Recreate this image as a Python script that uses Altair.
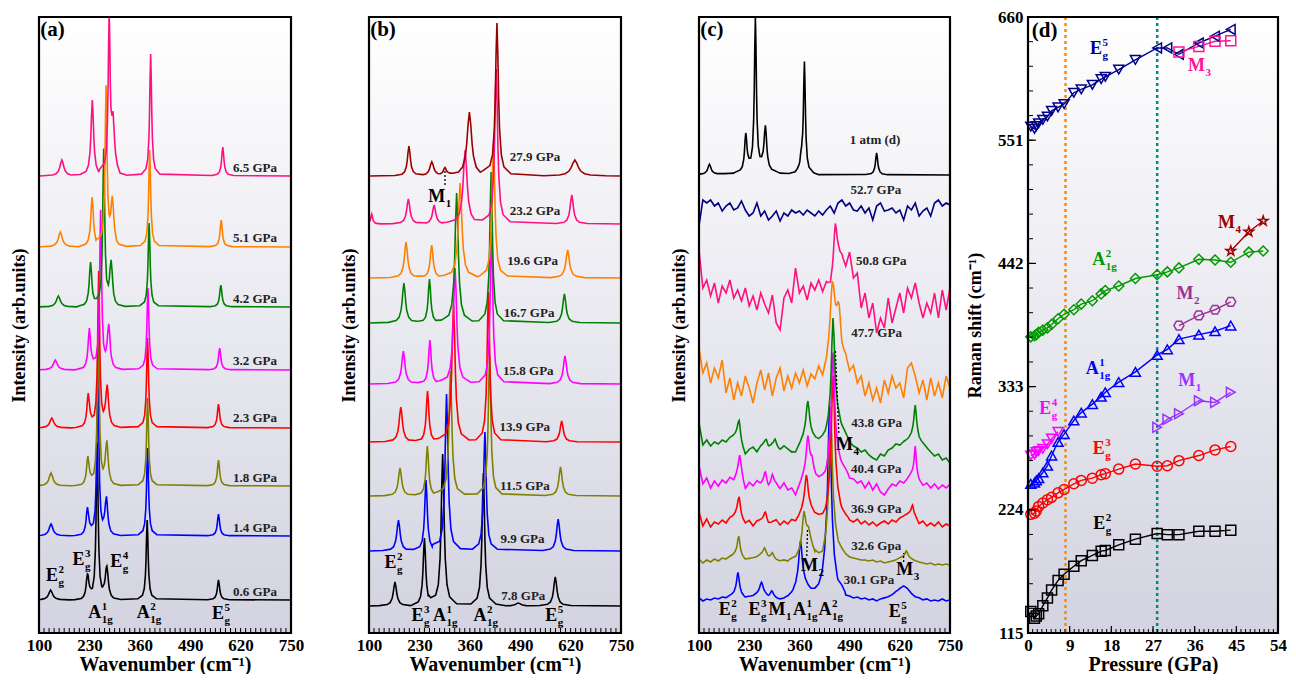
import numpy as np
import pandas as pd
import altair as alt

FONT = "Liberation Serif"
H = 616

# ---------------- colours ----------------
COL = {"black": "#000000", "blue": "#0000ff", "olive": "#808000", "red": "#ff0000",
       "magenta": "#ff00ff", "green": "#008000", "orange": "#ff8000", "pink": "#ff1080",
       "darkred": "#990000", "navy": "#000080"}

# line-shape template for a peak: offset (in half widths) and fraction of peak height
T_OFF = [-8, -4, -2.5, -1.5, -1, -0.5, 0, 0.5, 1, 1.5, 2.5, 4, 8]
T_FRAC = [0.015, 0.06, 0.14, 0.31, 0.5, 0.8, 1, 0.8, 0.5, 0.31, 0.14, 0.06, 0.015]

# ---------------- panel (a) ----------------
A_LABELS = ["0.6 GPa", "1.4 GPa", "1.8 GPa", "2.3 GPa", "3.2 GPa", "4.2 GPa", "5.1 GPa", "6.5 GPa"]
A_COLORS = ["black", "blue", "olive", "red", "magenta", "green", "orange", "pink"]
A_BASE = [33, 97, 147, 205, 263, 326, 386, 457]
# peaks: (wavenumber, height, half width)
A_PEAKS = [
    [(130, 10, 6), (225, 26, 4), (250, 155, 3), (275, 34, 4.5), (379, 80, 3), (563, 20, 3.5)],
    [(131, 12, 6), (225, 29, 4), (252, 158, 3), (274, 36, 4.5), (380, 88, 3), (563, 22, 3.5)],
    [(131, 13, 6), (226, 30, 4), (253, 158, 3), (275, 42, 4.5), (380, 88, 3), (563, 26, 3.5)],
    [(133, 10, 6), (227, 35, 4), (254, 154, 3), (276, 40, 4.5), (380, 90, 3), (563, 24, 3.5)],
    [(142, 10, 6), (230, 42, 4), (259, 157, 3), (280, 42, 4.5), (381, 82, 3), (566, 22, 3.5)],
    [(150, 11, 6), (233, 45, 4), (267, 156, 3), (286, 42, 4.5), (384, 84, 3), (569, 22, 3.5)],
    [(155, 15, 6), (237, 50, 4), (273, 158, 3), (289, 44, 4.5), (385.5, 97, 3), (570, 27, 3.5)],
    [(159, 16, 6), (237.5, 76, 4), (281, 155, 3), (291, 50, 4.5), (388, 122, 3), (574, 29, 3.5)],
]
A_LABEL_X = [657, 657, 657, 657, 657, 657, 657, 657]
A_LABEL_Y = [41, 105, 155, 215, 272, 334, 395, 465]
A_ANN = [("E", "2", "g", 133.5, 57), ("E", "3", "g", 202, 73), ("E", "4", "g", 299, 71),
         ("A", "1", "1g", 243.6, 20), ("A", "2", "1g", 369, 20), ("E", "5", "g", 562, 19)]
A_TICKS = list(range(100, 751, 13))

# ---------------- panel (b) ----------------
B_LABELS = ["7.8 GPa", "9.9 GPa", "11.5 GPa", "13.9 GPa", "15.8 GPa", "16.7 GPa", "19.6 GPa", "23.2 GPa", "27.9 GPa"]
B_COLORS = ["black", "blue", "olive", "red", "magenta", "green", "orange", "pink", "darkred"]
B_BASE = [27, 82, 137, 191, 249, 310, 355, 409, 457]
B_PEAKS = [
    [(167, 24, 5), (243, 68, 4), (290, 152, 4.5), (395, 133, 4), (485, 3, 8), (580.5, 29, 5)],
    [(176, 31, 5), (247, 71, 4), (300, 157, 4.5), (399, 119, 4), (588, 32, 5)],
    [(180, 28, 5), (250.5, 50, 4), (310, 125, 4.5), (411, 140, 4), (594, 29, 5)],
    [(182, 35, 5), (251, 51, 4), (318, 137, 5), (408, 150, 4), (597, 21, 5)],
    [(188.6, 33, 5), (257, 44, 4), (322, 116, 5), (416, 152, 4), (605.5, 28, 5)],
    [(190, 40, 5), (256, 44, 4), (326, 130, 5), (415, 151, 4), (604, 29, 5)],
    [(195.5, 36, 5), (261.7, 33, 4.5), (335, 95, 5.5), (421, 133, 4.5), (612.5, 28, 5.5)],
    [(107, 10, 3), (201.5, 25, 5), (268, 19, 5), (348, 74, 6), (428, 155, 4.5), (623, 29, 5)],
    [(203, 30, 4.5), (262, 14, 6), (296, 8, 5), (359, 64, 7), (430, 153, 4.5), (631, 16, 10)],
]
B_LABEL_X = [498, 496, 502, 502, 511, 513, 522, 528, 528]
B_LABEL_Y = [37, 94, 147, 206, 262, 320, 372, 422, 476]
B_ANN = [("E", "2", "g", 155.5, 70), ("E", "3", "g", 225, 17), ("A", "1", "1g", 282, 17),
         ("A", "2", "1g", 386, 17), ("E", "5", "g", 570, 17), ("M", "", "1", 274.6, 436)]
B_GUIDES = [(296, 296, 448, 462)]

# ---------------- panel (c) ----------------
C_LABELS = ["30.1 GPa", "32.6 Gpa", "36.9 GPa", "40.4 GPa", "43.8 GPa", "47.7 GPa", "50.8 GPa", "52.7 GPa", "1 atm (d)"]
C_COLORS = ["blue", "olive", "red", "magenta", "green", "orange", "pink", "navy", "black"]
C_BASE = [33, 70, 109, 147, 183, 245, 335, 423, 458]
C_PEAKS = [
    [(201, 18, 4), (262, 10, 5), (288, 4, 4), (363, 40, 5), (438, 150, 5), (630, 3, 10)],
    [(203, 18, 4), (270, 7, 5), (290, 4, 4), (372, 30, 5), (384, 8, 4), (441, 125, 5), (637, 6, 4)],
    [(204, 18, 4), (272, 8, 4), (378, 30, 5), (447, 120, 5), (653, 8, 3)],
    [(205.5, 20, 4), (272, 10, 4), (290, 7, 4), (382, 35, 5), (393, 10, 4), (447, 105, 5), (660, 25, 3)],
    [(204, 18, 4), (274, 6, 4), (297, 7, 4), (382, 30, 5), (447, 100, 5), (660, 25, 4)],
    [(445, 55, 6), (463, 25, 5)],
    [(453, 45, 5)],
    [],
    [(127, 10, 5), (221, 38, 3.5), (246, 150, 3), (272, 45, 4), (365, 12, 4), (373, 110, 3), (560, 22, 3.5), (250, 6, 40)],
]
# measured background of the noisy spectra, every 10 cm-1 from 100 to 750
NOISE_GRID = list(range(100, 751, 10))
N_301 = [2, -1, 1, 0, 2, 1, 3, 2, 4, 6, 10, 5, 2, 3, 4, 6, 8, 6, 3, 5, 2, 1, 2, 3, 6, 12, 20, 18, 14, 10,
         8, 10, 20, 40, 45, 25, 12, 10, 5, 4, 2, 3, 1, 2, 0, 1, -1, 1, 2, 3, 5, 8, 10, 11, 10, 6, 3, 2, 0, 1,
         -1, 0, -1, 1, -1, 0]
N_326 = [4, 0, 3, 1, 4, 2, 5, 4, 6, 8, 10, 6, 3, 4, 5, 6, 8, 8, 5, 6, 3, 2, 3, 2, 4, 5, 10, 20, 25, 20,
         10, 5, 5, 15, 30, 25, 15, 10, 7, 6, 5, 4, 3, 3, 2, 3, 1, 2, 0, 1, 2, 3, 5, 6, 6, 4, 2, 1, 0, -1,
         0, -2, -1, -2, -1, -2]
N_369 = [12, -2, 5, -3, 2, 0, 4, 1, 6, 8, 12, 5, 0, 3, -2, 3, 4, 5, 0, 2, 4, -1, 3, 0, 4, 2, 8, 15, 20, 15,
         10, 6, 5, 10, 25, 30, 20, 10, 6, 4, 2, 5, 0, 3, -1, 2, -2, 1, 3, 0, 4, 2, 6, 8, 10, 12, 8, 0, 3, -2,
         1, -2, 2, -3, 0, -2]
N_404 = [20, 2, 8, -2, 5, 0, 6, 3, 8, 5, 12, 10, -4, 3, 0, 5, 2, 5, -2, 4, 2, -3, 3, -4, -2, -10, 0, 8, 14, 15,
         10, 5, 6, 10, 25, 30, 25, 18, 14, 8, 7, 3, 5, -2, 4, -4, 2, -6, -9, -3, 2, 0, 5, 3, 7, 12, 15, 5, 0, 3,
         -2, 2, -3, 1, -2, 2]
N_438 = [27, 5, 10, 4, 8, 6, 10, 8, 12, 14, 16, 5, -5, 0, 3, -2, 4, 6, 2, 5, 3, 0, 4, 1, -2, -3, 5, 12, 20, 15,
         12, 8, 10, 15, 25, 35, 30, 20, 14, 8, 4, 2, -2, 0, -5, -8, -10, -4, -6, 0, 2, 6, 5, 8, 10, 14, 20, 10, 6, 2,
         -2, -6, -4, -10, -8, -13]
N_477 = [40, 15, 25, 5, 20, 10, 28, -5, 10, -12, 5, -8, 12, 0, -15, 5, 18, -2, 15, -8, 10, 20, -3, 12, 0, 15, 5, 18, 2, 14,
         8, 20, 10, 22, 40, 60, 60, 35, 30, 15, 22, 5, 12, -8, 5, -12, 0, -15, 8, -5, 12, 0, 5, -10, 20, 25, 12, -5, 8, -12,
         10, -8, 5, -10, 12, 0]
N_508 = [48, 10, 18, 2, 15, -5, 12, 5, 18, 0, 8, -3, 10, -8, 2, -12, 5, -6, -15, 3, -25, -32, 0, 8, -5, 30, 5, 12, -2, 15,
         8, 18, 5, 14, 10, 25, 40, 40, 30, 45, 20, 25, -10, 5, -20, -5, -35, -20, -30, 0, -25, -10, 5, -15, 10, 0, 15, -5, -20, -5,
         -15, 5, -20, 8, -12, 10]
N_527 = [-16, 10, 7, 10, 4, 7, -1, 4, 7, 0, 2, 9, 0, -6, -3, 7, -6, -1, -10, -6, -1, -11, -3, -6, 0, -3, -1, -5, 0, -3,
         -6, -1, -5, 0, 4, -3, 7, 10, 4, 7, 0, -1, 4, -3, 2, -10, 4, 7, -1, 0, 2, -3, 0, -10, 4, 0, 7, -6, -1, 2,
         -6, 7, 10, 4, 7, 5]
C_NOISE = [N_301, N_326, N_369, N_404, N_438, N_477, N_508, N_527, None]
C_LABEL_X = [540, 559, 559, 559, 560, 560, 572, 558, 556]
C_LABEL_Y = [53, 87, 124, 164, 210, 300, 372, 443, 493]
C_ANN = [("E", "2", "g", 167, 23), ("E", "3", "g", 244, 23), ("M", "", "1", 302, 23),
         ("A", "1", "1g", 360.5, 23), ("A", "2", "1g", 426, 23), ("E", "5", "g", 607, 21),
         ("M", "", "2", 386, 67), ("M", "", "4", 476.5, 188), ("M", "", "3", 633, 63)]
C_GUIDES = [(379, 381, 77, 103), (462, 453, 200, 283), (630, 630, 71, 80)]

# ---------------- panel (d) ----------------
D_P = [0.6, 1.4, 1.8, 2.3, 3.2, 4.2, 5.1, 6.5, 7.8, 9.9, 11.5, 13.9, 15.8, 16.7, 19.6, 23.2,
       27.9, 30.1, 32.6, 36.9, 40.4, 43.8]
D_P_HI = [47.7, 50.8]
E2 = [134, 128, 130, 132, 139, 146, 153, 161.5, 167, 174, 179, 183.6, 187.4, 188, 193, 198, 203, 202, 202, 205, 205, 206]
E3 = [220, 221, 223, 227, 230, 233, 235, 239, 242, 247, 250, 252, 255, 256, 260, 264.5, 262.5, 263, 267.5, 272, 277, 280]
A1 = [247, 248, 250, 252, 257, 263, 272, 284, 291, 303, 310, 317.5, 324, 328, 337, 346, 361, 366, 375, 379, 382, 387]
E4 = [272, 273, 275, 276, 278, 282, 287, 293]
A2 = [377, 378, 379, 381, 383, 385, 388, 393, 397, 401, 406, 409, 415, 418, 422, 428.6, 432, 434.5, 438, 445.6, 445, 443, 452, 453]
E5 = [563, 561, 563.5, 566, 569, 572, 577, 580, 583, 593, 596, 600, 605, 607, 613.5, 622, 632.6, 632.6, 627, 637, 643, 649]
M1_P = [27.9, 30.1, 32.6, 36.9, 40.4, 43.8]
M1 = [297, 304, 309, 320.5, 319, 328]
M2_P = [32.6, 36.9, 40.4, 43.8]
M2 = [387, 396, 401, 408]
M3_P = [32.6, 36.9, 40.4, 43.8]
M3 = [629, 634, 638.5, 639]
M4_P = [43.8, 47.7, 50.8]
M4 = [453, 470, 479.5]
D_PHASES = [8.1, 27.9]
D_PHASE_COLORS = ["#ff8c00", "#008b8b"]
D_ANN = [("E", "5", "g", 14.7, 631.5, "#00008b"), ("M", "", "3", 36.4, 616.4, "#ff1493"),
         ("M", "", "4", 42.9, 478, "#a00000"), ("A", "2", "1g", 15.3, 445, "#009900"),
         ("M", "", "2", 33.9, 414.7, "#993399"), ("A", "1", "1g", 13.9, 348.4, "#0000ff"),
         ("M", "", "1", 34.3, 338, "#9933ff"), ("E", "4", "g", 3.7, 313.4, "#ff00ff"),
         ("E", "3", "g", 15.3, 278, "#ff0000"), ("E", "2", "g", 15.4, 211.5, "#000000")]

HEX = "M-0.5,-0.866L0.5,-0.866L1,0L0.5,0.866L-0.5,0.866L-1,0Z"
STAR = "M0,-1L0.2245,-0.309L0.951,-0.309L0.363,0.118L0.588,0.809L0,0.382L-0.588,0.809L-0.363,0.118L-0.951,-0.309L-0.2245,-0.309Z"

ONE = pd.DataFrame({"k": [0]})
GRAD = {"gradient": "linear", "x1": 0, "y1": 0, "x2": 0, "y2": 1,
        "stops": [{"offset": 0, "color": "#ffffff"}, {"offset": 1, "color": "#d3d3e1"}]}


def spectrum(base, peaks, noise=None):
    xs = {100.0, 750.0}
    if noise is not None:
        xs.update(float(v) for v in NOISE_GRID)
    for p, h, w in peaks:
        xs.update(p + o * w for o in T_OFF)
    xs = np.array(sorted(x for x in xs if 100 <= x <= 750))
    ys = np.full(len(xs), float(base))
    if noise is not None:
        ys += np.interp(xs, NOISE_GRID, noise)
    for p, h, w in peaks:
        ys += h * np.interp((xs - p) / w, T_OFF, T_FRAC, left=0.0, right=0.0)
    return xs, ys


def background(width, height=H):
    return alt.Chart(ONE).mark_rect(fill=GRAD, strokeWidth=0).encode(
        x=alt.value(0), x2=alt.value(width), y=alt.value(0), y2=alt.value(height))


def frame(width, height=H):
    return alt.Chart(ONE).mark_rect(filled=False, stroke="black", strokeWidth=2.2).encode(
        x=alt.value(0), x2=alt.value(width), y=alt.value(0), y2=alt.value(height))


def x_axis(values, title):
    return alt.Axis(values=values, title=title, ticks=False, domain=False, grid=False, labelFlush=False,
                    labelOverlap=False, labelFont=FONT, labelFontSize=17, labelFontWeight="bold",
                    labelColor="black", labelPadding=4, titleFont=FONT, titleFontSize=20,
                    titleFontWeight="bold", titleColor="black", titlePadding=1)


SPEC_X_AXIS = x_axis([100, 230, 360, 490, 620, 750], "Wavenumber (cm⁻¹)")
SPEC_Y_AXIS = alt.Axis(title="Intensity (arb.units)", labels=False, ticks=False, domain=False, grid=False,
                       titleFont=FONT, titleFontSize=18, titleFontWeight="bold", titleColor="black",
                       titlePadding=11)
D_X_AXIS = x_axis([0, 9, 18, 27, 36, 45, 54], "Pressure (GPa)")
D_Y_AXIS = alt.Axis(values=[115, 224, 333, 442, 551, 660], title="Raman shift (cm⁻¹)", ticks=False, domain=False,
                    grid=False, labelFont=FONT, labelFontSize=17, labelFontWeight="bold", labelColor="black",
                    labelPadding=5, titleFont=FONT, titleFontSize=18, titleFontWeight="bold", titleColor="black",
                    titlePadding=13)


def annotations(rows, X, Y, default_color="#000000", fs_main=18, fs_small=11):
    recs = []
    for r in rows:
        main, sup, sub, x, y = r[:5]
        col = r[5] if len(r) > 5 else default_color
        recs.append({"main": main, "sup": sup, "sub": sub, "x": x, "y": y, "color": col})
    df = pd.DataFrame(recs)
    enc = dict(x=X("x"), y=Y("y"), color=alt.Color("color:N", scale=None))
    layers = [alt.Chart(df).mark_text(font=FONT, fontWeight="bold", fontSize=fs_main, align="center",
                                      baseline="middle").encode(text="main:N", **enc)]
    for letter, dx in [("E", 6.5), ("A", 7), ("M", 9)]:
        sdf = df[df["main"] == letter]
        if len(sdf) == 0:
            continue
        layers.append(alt.Chart(sdf).mark_text(font=FONT, fontWeight="bold", fontSize=fs_small, align="left",
                                               baseline="middle", dx=dx, dy=-6).encode(text="sup:N", **enc))
        layers.append(alt.Chart(sdf).mark_text(font=FONT, fontWeight="bold", fontSize=fs_small, align="left",
                                               baseline="middle", dx=dx, dy=7).encode(text="sub:N", **enc))
    return layers


def spectra_panel(tag, width, labels, colors, bases, peaks, lab_x, lab_y, ann, guides, noises=None):
    xsc = alt.Scale(domain=[100, 750], nice=False, zero=False)
    ysc = alt.Scale(domain=[0, H], nice=False, zero=False)

    def X(f):
        return alt.X(f"{f}:Q", scale=xsc, axis=SPEC_X_AXIS)

    def Y(f):
        return alt.Y(f"{f}:Q", scale=ysc, axis=SPEC_Y_AXIS)

    layers = [background(width)]
    for i in range(len(labels)):
        xs, ys = spectrum(bases[i], peaks[i], noises[i] if noises else None)
        df = pd.DataFrame({"x": xs, "y": ys})
        layers.append(alt.Chart(df).mark_line(color=COL[colors[i]], strokeWidth=1.6, clip=True).encode(
            x=X("x"), y=Y("y")))
    ldf = pd.DataFrame({"x": lab_x, "y": lab_y, "t": labels})
    layers.append(alt.Chart(ldf).mark_text(font=FONT, fontWeight="bold", fontSize=13, color="#222222",
                                           align="center", baseline="middle").encode(
        x=X("x"), y=Y("y"), text="t:N"))
    if guides:
        gdf = pd.DataFrame(guides, columns=["x", "x2", "y", "y2"])
        layers.append(alt.Chart(gdf).mark_rule(color="black", strokeWidth=1.3, strokeDash=[2, 2]).encode(
            x=X("x"), x2="x2:Q", y=Y("y"), y2="y2:Q"))
    layers += annotations(ann, X, Y)
    tdf = pd.DataFrame({"x": A_TICKS})
    layers.append(alt.Chart(tdf).mark_rule(color="black", strokeWidth=1).encode(
        x=X("x"), y=alt.value(H), y2=alt.value(H - 5)))
    tag_df = pd.DataFrame({"x": [103], "y": [603], "t": [tag]})
    layers.append(alt.Chart(tag_df).mark_text(font=FONT, fontWeight="bold", fontSize=21, color="black",
                                              align="left", baseline="middle").encode(
        x=X("x"), y=Y("y"), text="t:N"))
    layers.append(frame(width))
    return alt.layer(*layers).properties(width=width, height=H)


pa = spectra_panel("(a)", 252, A_LABELS, A_COLORS, A_BASE, A_PEAKS, A_LABEL_X, A_LABEL_Y, A_ANN, None)
pb = spectra_panel("(b)", 252, B_LABELS, B_COLORS, B_BASE, B_PEAKS, B_LABEL_X, B_LABEL_Y, B_ANN, B_GUIDES)
pc = spectra_panel("(c)", 251, C_LABELS, C_COLORS, C_BASE, C_PEAKS, C_LABEL_X, C_LABEL_Y, C_ANN, C_GUIDES, C_NOISE)

# ---------------- panel (d) build ----------------
DW = 250
xsd = alt.Scale(domain=[0, 54], nice=False, zero=False)
ysd = alt.Scale(domain=[115, 660], nice=False, zero=False)


def DX(f):
    return alt.X(f"{f}:Q", scale=xsd, axis=D_X_AXIS)


def DY(f):
    return alt.Y(f"{f}:Q", scale=ysd, axis=D_Y_AXIS)


series = [
    ("E2", "#000000", D_P, E2), ("E3", "#ff0000", D_P, E3), ("A1", "#0000ff", D_P, A1),
    ("E4", "#ff00ff", D_P[:8], E4), ("M1", "#9933ff", M1_P, M1), ("A2", "#009900", D_P + D_P_HI, A2),
    ("M2", "#993399", M2_P, M2), ("M4", "#a00000", M4_P, M4), ("E5", "#00008b", D_P, E5),
    ("M3", "#ff1493", M3_P, M3),
]
SHAPES = {"E2": "square", "E3": "circle", "A1": "triangle-up", "E4": "triangle-down", "M1": "triangle-right",
          "A2": "diamond", "M2": HEX, "M4": STAR, "M3": "square"}
rows = []
for name, col, ps, vs in series:
    for p, v in zip(ps, vs):
        if name == "E5":
            shp = "triangle-left" if p >= 27.9 else "triangle-down"
        else:
            shp = SHAPES[name]
        rows.append({"series": name, "color": col, "shape": shp, "x": p, "y": v})
ddf = pd.DataFrame(rows)

d_layers = [background(DW)]
phdf = pd.DataFrame({"x": D_PHASES, "color": D_PHASE_COLORS})
d_layers.append(alt.Chart(phdf).mark_rule(strokeWidth=2.5, strokeDash=[3, 3]).encode(
    x=DX("x"), color=alt.Color("color:N", scale=None)))
d_layers.append(alt.Chart(ddf).mark_line(strokeWidth=1.4).encode(
    x=DX("x"), y=DY("y"), color=alt.Color("color:N", scale=None), detail="series:N"))
d_layers.append(alt.Chart(ddf).mark_point(filled=False, strokeWidth=1.5, size=100, opacity=1).encode(
    x=DX("x"), y=DY("y"), color=alt.Color("color:N", scale=None), shape=alt.Shape("shape:N", scale=None)))
d_layers += annotations(D_ANN, DX, DY)
dtag = pd.DataFrame({"x": [0.8], "y": [648], "t": ["(d)"]})
d_layers.append(alt.Chart(dtag).mark_text(font=FONT, fontWeight="bold", fontSize=21, color="black",
                                          align="left", baseline="middle").encode(
    x=DX("x"), y=DY("y"), text="t:N"))
xt_minor = pd.DataFrame({"x": list(range(0, 55))})
xt_major = pd.DataFrame({"x": [0, 9, 18, 27, 36, 45, 54]})
yt_minor = pd.DataFrame({"y": [115 + 21.8 * k for k in range(26)]})
yt_major = pd.DataFrame({"y": [115, 224, 333, 442, 551, 660]})
d_layers.append(alt.Chart(xt_minor).mark_rule(color="black", strokeWidth=1).encode(
    x=DX("x"), y=alt.value(H), y2=alt.value(H - 4)))
d_layers.append(alt.Chart(xt_major).mark_rule(color="black", strokeWidth=1.2).encode(
    x=DX("x"), y=alt.value(H), y2=alt.value(H - 7)))
d_layers.append(alt.Chart(yt_minor).mark_rule(color="black", strokeWidth=1).encode(
    y=DY("y"), x=alt.value(0), x2=alt.value(5)))
d_layers.append(alt.Chart(yt_major).mark_rule(color="black", strokeWidth=1.2).encode(
    y=DY("y"), x=alt.value(0), x2=alt.value(8)))
d_layers.append(frame(DW))
pd_chart = alt.layer(*d_layers).properties(width=DW, height=H)

chart = alt.hconcat(pa, pb, pc, pd_chart, spacing=78, bounds="flush").properties(
    padding={"left": 2, "top": 0, "right": 0, "bottom": 0}
).configure_view(strokeWidth=0)

chart.save("out.html", embed_options={"renderer": "svg", "actions": False})
